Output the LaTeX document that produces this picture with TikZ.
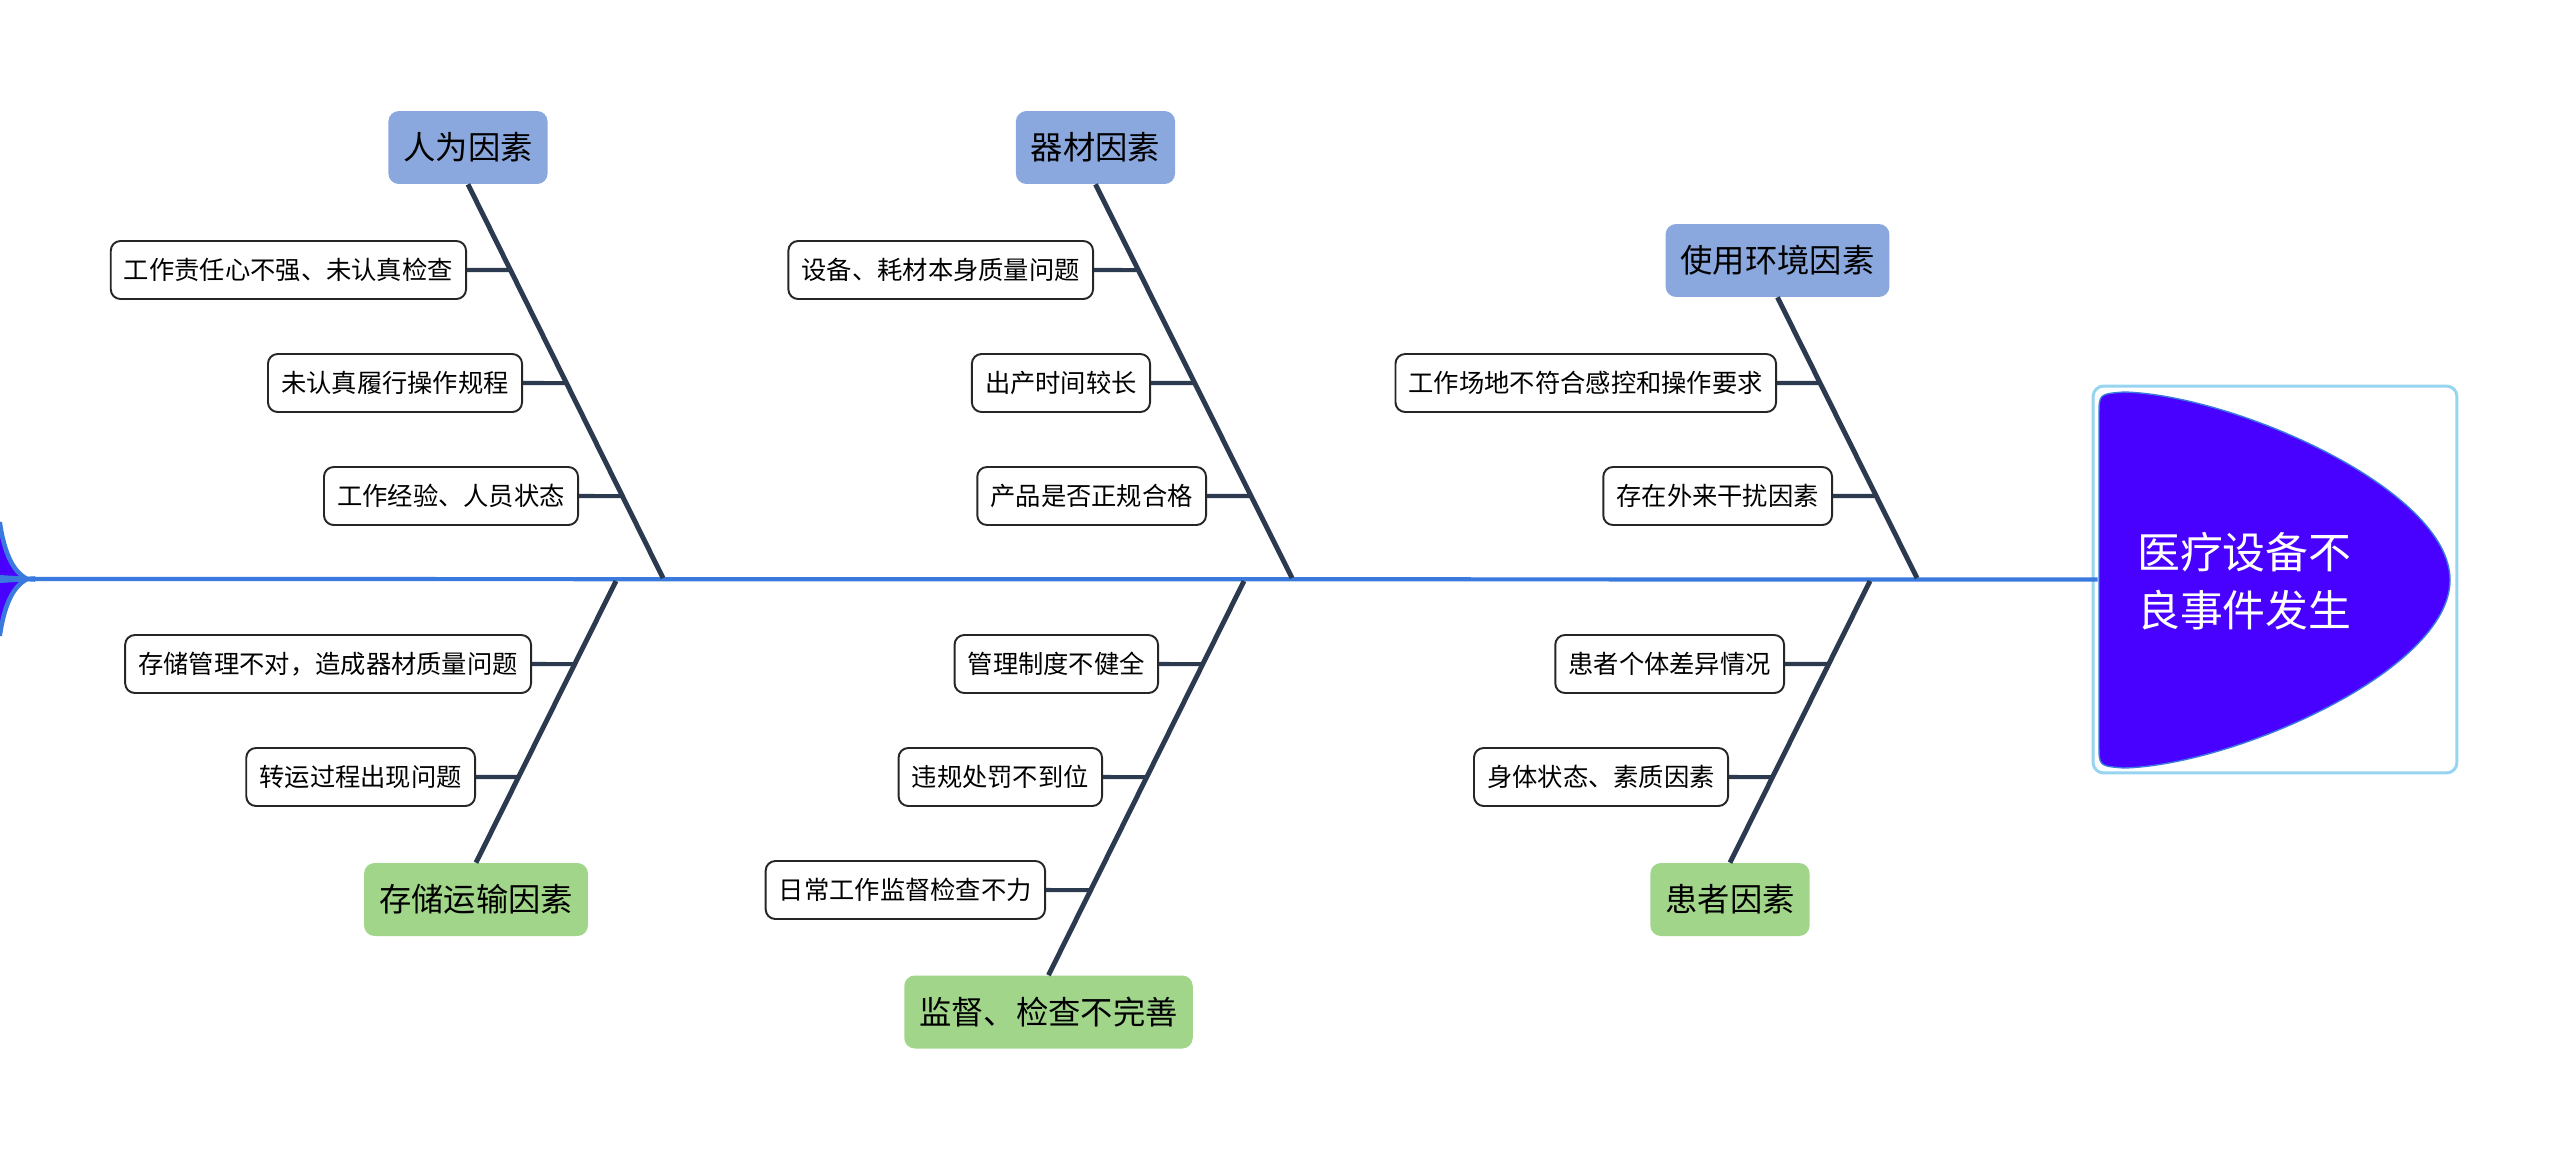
\documentclass[tikz,border=0pt]{standalone}
\usepackage{fontspec}
\setmainfont{Noto Sans CJK SC}
\usetikzlibrary{positioning,calc}
\definecolor{spineblue}{RGB}{58,122,222}
\definecolor{headpurple}{RGB}{72,0,255}
\definecolor{boneink}{RGB}{44,58,80}
\definecolor{upfill}{RGB}{138,168,222}
\definecolor{downfill}{RGB}{160,213,138}
\definecolor{framecyan}{RGB}{150,212,240}

\begin{document}
\begin{tikzpicture}[x=0.02cm, y=-0.02cm,
    leaf/.style={draw=black!85, line width=1.1pt, rounded corners=5.5pt, fill=white, anchor=east,
                 minimum height=1.16cm, inner xsep=7.5pt, inner ysep=0pt,
                 font=\fontsize{14.4pt}{17pt}\selectfont},
    catup/.style={fill=upfill, rounded corners=6pt, minimum height=1.46cm, inner xsep=8.5pt,
                  font=\fontsize{18.4pt}{22pt}\selectfont},
    catdown/.style={catup, fill=downfill},
    bone/.style={draw=boneink, line width=2.8pt},
    twig/.style={draw=boneink, line width=2.3pt},
    spine/.style={draw=spineblue, line width=2.4pt}]
                    \useasboundingbox (0,0) rectangle (2560,1160);
                    \clip (0,0) rectangle (2560,1160);

                    \coordinate (tail) at (27,579);
                    \node[draw=framecyan, line width=1.7pt, rounded corners=6pt, minimum width=7.28cm, minimum height=7.74cm] (fish) at (2275,579.5) {};
                    \draw[spine] (tail) -- ([xshift=0.12cm]fish.west);
                    \filldraw[fill=headpurple, draw=spineblue, line width=2.6pt] (tail) .. controls (14,572) and (5,556) .. (0,524) -- (-20,520) -- (-20,576) -- cycle;
                    \filldraw[fill=headpurple, draw=spineblue, line width=2.6pt] (tail) .. controls (14,586) and (5,602) .. (0,634) -- (-20,638) -- (-20,582) -- cycle;
                    \filldraw[fill=headpurple, draw=spineblue, line width=0.8pt] (2099,415) .. controls (2099,394) .. (2124,392)
                        .. controls (2235,395) and (2450,490) .. (2450,580)
                        .. controls (2450,670) and (2235,765) .. (2124,768)
                        .. controls (2099,766) .. (2099,745) -- cycle;
                    \node[anchor=west, text=white, align=left, font=\fontsize{24.4pt}{32.9pt}\selectfont] (head) at (2131,581) {医疗设备不\\良事件发生};

                    \node[catup] (hr) at (468,147.5) {人为因素};
                    \node[catup] (eq) at (1095.5,147.5) {器材因素};
                    \node[catup] (env) at (1777.5,260.5) {使用环境因素};
                    \node[catdown] (st) at (476,899.5) {存储运输因素};
                    \node[catdown] (sv) at (1048.5,1012) {监督、检查不完善};
                    \node[catdown] (pt) at (1730,899.5) {患者因素};

                    \coordinate (hrb) at (663,578);
                    \coordinate (eqb) at (1292,578);
                    \coordinate (envb) at (1917,578);
                    \coordinate (stb) at (616,581);
                    \coordinate (svb) at (1244,581);
                    \coordinate (ptb) at (1870,581);
                    \draw[bone] (hr.south) -- (hrb);
                    \draw[bone] (eq.south) -- (eqb);
                    \draw[bone] (env.south) -- (envb);
                    \draw[bone] (st.north) -- (stb);
                    \draw[bone] (sv.north) -- (svb);
                    \draw[bone] (pt.north) -- (ptb);

                    \node[leaf] (h1) at (467,270) {工作责任心不强、未认真检查};
                    \node[leaf] (h2) at (523,383) {未认真履行操作规程};
                    \node[leaf] (h3) at (579,496) {工作经验、人员状态};
                    \node[leaf] (e1) at (1094,270) {设备、耗材本身质量问题};
                    \node[leaf] (e2) at (1151,383) {出产时间较长};
                    \node[leaf] (e3) at (1207,496) {产品是否正规合格};
                    \node[leaf] (u1) at (1777,383) {工作场地不符合感控和操作要求};
                    \node[leaf] (u2) at (1833,496) {存在外来干扰因素};
                    \node[leaf] (s1) at (532,664) {存储管理不对，造成器材质量问题};
                    \node[leaf] (s2) at (476,777) {转运过程出现问题};
                    \node[leaf] (v1) at (1159,664) {管理制度不健全};
                    \node[leaf] (v2) at (1103,777) {违规处罚不到位};
                    \node[leaf] (v3) at (1046,890) {日常工作监督检查不力};
                    \node[leaf] (p1) at (1785,664) {患者个体差异情况};
                    \node[leaf] (p2) at (1729,777) {身体状态、素质因素};

                    \draw[twig] (h1.east) -- (intersection of h1.east--h1.west and hr.south--hrb);
                    \draw[twig] (h2.east) -- (intersection of h2.east--h2.west and hr.south--hrb);
                    \draw[twig] (h3.east) -- (intersection of h3.east--h3.west and hr.south--hrb);
                    \draw[twig] (e1.east) -- (intersection of e1.east--e1.west and eq.south--eqb);
                    \draw[twig] (e2.east) -- (intersection of e2.east--e2.west and eq.south--eqb);
                    \draw[twig] (e3.east) -- (intersection of e3.east--e3.west and eq.south--eqb);
                    \draw[twig] (u1.east) -- (intersection of u1.east--u1.west and env.south--envb);
                    \draw[twig] (u2.east) -- (intersection of u2.east--u2.west and env.south--envb);
                    \draw[twig] (s1.east) -- (intersection of s1.east--s1.west and st.north--stb);
                    \draw[twig] (s2.east) -- (intersection of s2.east--s2.west and st.north--stb);
                    \draw[twig] (v1.east) -- (intersection of v1.east--v1.west and sv.north--svb);
                    \draw[twig] (v2.east) -- (intersection of v2.east--v2.west and sv.north--svb);
                    \draw[twig] (v3.east) -- (intersection of v3.east--v3.west and sv.north--svb);
                    \draw[twig] (p1.east) -- (intersection of p1.east--p1.west and pt.north--ptb);
                    \draw[twig] (p2.east) -- (intersection of p2.east--p2.west and pt.north--ptb);
                \end{tikzpicture}
\end{document}
